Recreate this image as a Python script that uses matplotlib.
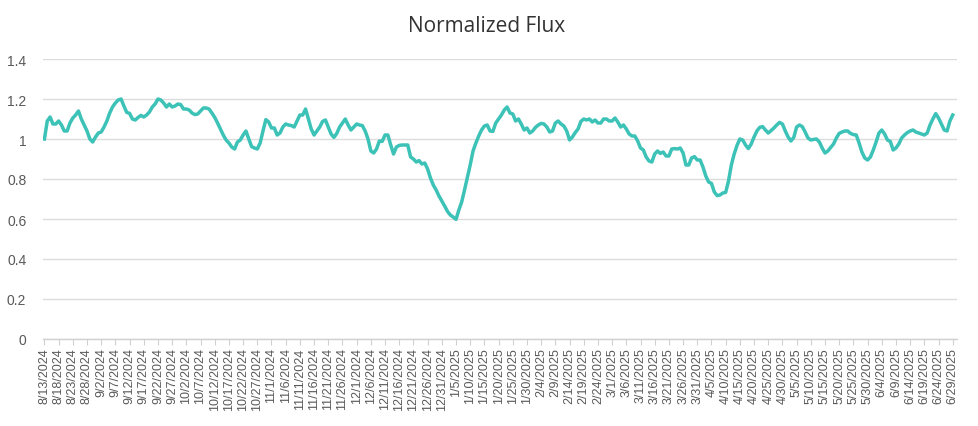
import datetime as dt

import matplotlib
matplotlib.use("Agg")
import matplotlib.pyplot as plt

# daily series, 8/13/2024 .. 6/29/2025
start_date = dt.date(2024, 8, 13)
flux = [
    1.00, 1.09, 1.11, 1.075, 1.075, 1.09, 1.07, 1.04, 1.04, 1.08,
    1.105, 1.12, 1.14, 1.10, 1.07, 1.04, 1.00, 0.985, 1.01, 1.03,
    1.035, 1.06, 1.09, 1.13, 1.16, 1.18, 1.195, 1.20, 1.165, 1.133,
    1.128, 1.10, 1.095, 1.108, 1.118, 1.11, 1.12, 1.135, 1.16, 1.175,
    1.20, 1.195, 1.18, 1.16, 1.175, 1.16, 1.165, 1.175, 1.172, 1.15,
    1.15, 1.145, 1.13, 1.122, 1.125, 1.14, 1.155, 1.155, 1.15, 1.13,
    1.108, 1.08, 1.05, 1.02, 0.995, 0.98, 0.96, 0.95, 0.985, 0.995,
    1.02, 1.04, 1.00, 0.962, 0.955, 0.95, 0.98, 1.04, 1.097, 1.085,
    1.055, 1.055, 1.02, 1.03, 1.06, 1.075, 1.07, 1.067, 1.06, 1.09,
    1.12, 1.12, 1.15, 1.10, 1.05, 1.02, 1.04, 1.06, 1.088, 1.095,
    1.06, 1.025, 1.008, 1.028, 1.06, 1.08, 1.10, 1.07, 1.045, 1.06,
    1.075, 1.07, 1.067, 1.04, 1.00, 0.94, 0.93, 0.95, 0.99, 0.988,
    1.02, 1.02, 0.97, 0.925, 0.96, 0.968, 0.97, 0.97, 0.97, 0.91,
    0.90, 0.885, 0.892, 0.875, 0.88, 0.85, 0.805, 0.77, 0.745, 0.715,
    0.69, 0.665, 0.638, 0.62, 0.61, 0.598, 0.645, 0.685, 0.745, 0.808,
    0.87, 0.94, 0.98, 1.015, 1.045, 1.065, 1.07, 1.04, 1.038, 1.08,
    1.10, 1.12, 1.145, 1.16, 1.13, 1.125, 1.09, 1.10, 1.075, 1.045,
    1.055, 1.03, 1.04, 1.058, 1.07, 1.078, 1.075, 1.06, 1.035, 1.04,
    1.08, 1.09, 1.075, 1.065, 1.04, 0.995, 1.01, 1.032, 1.05, 1.088,
    1.10, 1.095, 1.10, 1.085, 1.095, 1.08, 1.08, 1.10, 1.10, 1.09,
    1.09, 1.105, 1.085, 1.06, 1.07, 1.05, 1.025, 1.015, 1.015, 0.99,
    0.955, 0.945, 0.91, 0.89, 0.885, 0.925, 0.94, 0.928, 0.935, 0.915,
    0.915, 0.95, 0.952, 0.95, 0.955, 0.93, 0.87, 0.87, 0.905, 0.912,
    0.895, 0.895, 0.86, 0.815, 0.785, 0.778, 0.735, 0.717, 0.72, 0.73,
    0.733, 0.79, 0.87, 0.925, 0.968, 1.00, 0.995, 0.97, 0.952, 0.975,
    1.01, 1.04, 1.058, 1.062, 1.045, 1.03, 1.042, 1.055, 1.07, 1.083,
    1.075, 1.04, 1.01, 0.99, 1.008, 1.06, 1.07, 1.062, 1.035, 1.005,
    0.995, 0.998, 1.00, 0.985, 0.955, 0.93, 0.94, 0.958, 0.975, 1.005,
    1.028, 1.035, 1.04, 1.04, 1.028, 1.022, 1.02, 0.98, 0.935, 0.905,
    0.895, 0.91, 0.945, 0.985, 1.03, 1.045, 1.025, 0.995, 0.988, 0.945,
    0.955, 0.975, 1.005, 1.02, 1.032, 1.04, 1.045, 1.035, 1.03, 1.025,
    1.02, 1.03, 1.07, 1.10, 1.127, 1.105, 1.075, 1.045, 1.04, 1.09,
    1.12,
]
y_ticks = [0, 0.2, 0.4, 0.6, 0.8, 1.0, 1.2, 1.4]
y_labels = ["0", "0.2", "0.4", "0.6", "0.8", "1", "1.2", "1.4"]
label_step = 5  # one date label every 5 days

dates = [start_date + dt.timedelta(days=i) for i in range(len(flux))]
x = list(range(len(flux)))
tick_pos = x[::label_step]
tick_txt = [f"{d.month}/{d.day}/{d.year}" for d in dates[::label_step]]

fig = plt.figure(figsize=(9.79, 4.27), dpi=100)
ax = fig.add_axes([43 / 979, 1 - 340 / 427, (957 - 43) / 979, (340 - 60) / 427])

ax.plot(x, flux, color="#3CC2B6", lw=2.5, solid_joinstyle="round", zorder=3)

ax.set_xlim(-0.5, len(flux) + 0.5)
ax.set_ylim(0, 1.4)
ax.set_yticks(y_ticks)
ax.set_yticklabels(y_labels, fontsize=10, color="#595959", family="Liberation Sans")
ax.set_xticks(tick_pos)
ax.set_xticklabels(tick_txt, rotation=90, fontsize=9, color="#595959",
                   family="Liberation Sans")
ax.tick_params(axis="y", length=0, pad=12)
ax.tick_params(axis="x", length=4, color="#D0D0D0", pad=2)

ax.grid(axis="y", color="#DCDCDC", lw=1)
ax.set_axisbelow(True)
for side in ("top", "right", "left"):
    ax.spines[side].set_visible(False)
ax.spines["bottom"].set_color("#D0D0D0")
ax.spines["bottom"].set_linewidth(1)

fig.text(487 / 979, 1 - 27 / 427, "Normalized Flux", ha="center", va="center",
         fontsize=15, color="#333333", family="Open Sans")

fig.savefig("out.png", dpi=100)
